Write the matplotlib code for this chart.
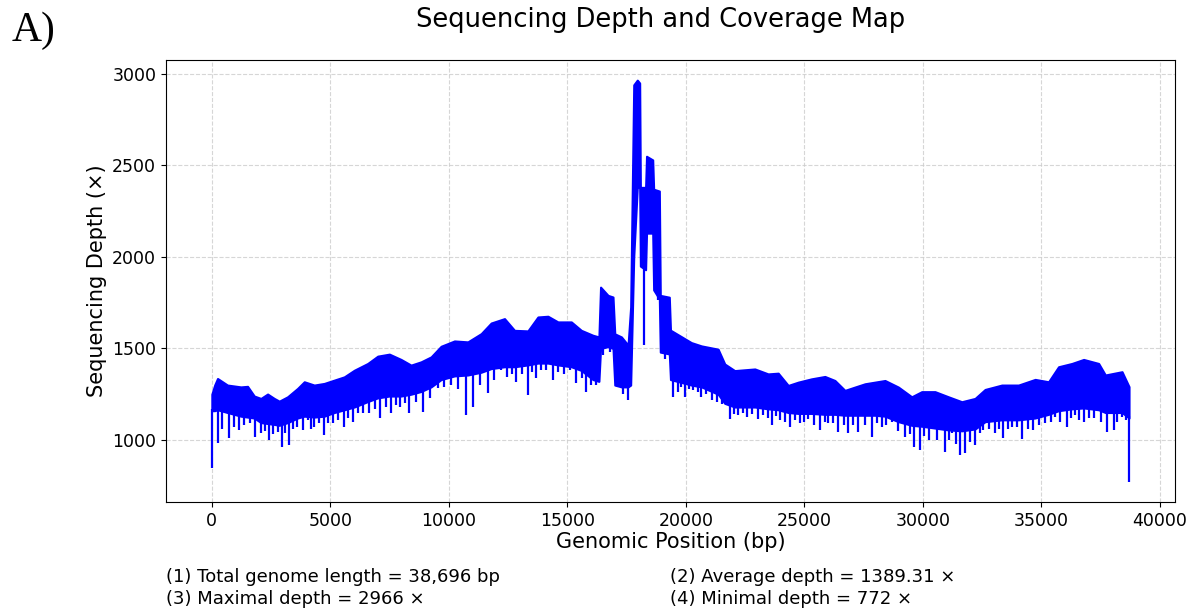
import numpy as np
import matplotlib
matplotlib.use("Agg")
import matplotlib.pyplot as plt

# Depth envelope (position in bp, upper / lower edge of the dense band)
bin_pos = [0, 120, 240, 660, 1225, 1507, 1790, 2070, 2352, 2634, 2845, 3197, 3620, 3900,
           4322, 4745, 5166, 5590, 6010, 6577, 7000, 7490, 7983, 8405, 8828, 9250, 9673,
           10236, 10800, 11363, 11785, 12347, 12770, 13333, 13757, 14180, 14602, 15165,
           15587, 16080, 16330, 16400, 16715, 16925, 17000, 17280, 17560, 17670, 17800,
           17950, 18050, 18080, 18300, 18340, 18600, 18640, 18880, 18920, 19300, 19350,
           20230, 20655, 21360, 21640, 22060, 22910, 23470, 23895, 24318, 24740, 25300,
           25865, 26287, 26710, 27130, 27555, 27978, 28400, 28965, 29527, 29950, 30510,
           31075, 31640, 32200, 32623, 33328, 34033, 34735, 35300, 35722, 36285, 36780,
           37414, 37697, 38400, 38696]
depth_hi = [1250, 1300, 1336, 1300, 1290, 1293, 1240, 1227, 1251, 1227, 1212, 1236, 1282, 1318,
            1300, 1309, 1327, 1345, 1381, 1418, 1458, 1469, 1440, 1409, 1427, 1454, 1512,
            1541, 1536, 1581, 1639, 1663, 1599, 1596, 1672, 1676, 1645, 1645,
            1599, 1572, 1563, 1835, 1790, 1781, 1580, 1563, 1518, 1727, 2940,
            2966, 2950, 2380, 2380, 2550, 2530, 2370, 2360, 1790, 1780, 1600,
            1532, 1514, 1496, 1415, 1379, 1388, 1361, 1365, 1298, 1316, 1334,
            1347, 1325, 1271, 1289, 1307, 1316, 1325, 1289, 1236, 1264, 1264,
            1236, 1209, 1227, 1276, 1300, 1300, 1331, 1318, 1400, 1418, 1440,
            1418, 1355, 1373, 1291]
depth_lo = [1160, 1160, 1165, 1150, 1130, 1125, 1120, 1095, 1090, 1085, 1080, 1095, 1120, 1130,
            1125, 1130, 1150, 1165, 1180, 1210, 1230, 1240, 1240, 1250, 1265, 1290, 1330,
            1350, 1355, 1370, 1390, 1400, 1400, 1410, 1420, 1420, 1410, 1400,
            1380, 1330, 1320, 1500, 1510, 1500, 1300, 1290, 1290, 1300, 2000,
            2380, 2380, 1950, 1930, 2130, 2130, 1820, 1770, 1480, 1470, 1330,
            1300, 1290, 1250, 1200, 1180, 1180, 1170, 1165, 1150, 1145, 1145,
            1140, 1140, 1135, 1135, 1135, 1135, 1130, 1100, 1080, 1075, 1065,
            1055, 1050, 1060, 1100, 1110, 1110, 1120, 1140, 1160, 1170, 1175,
            1165, 1150, 1150, 1120]

# Narrow dips below the band
spike_pos = [0, 240, 430, 732, 950, 1155, 1365, 1600, 1830, 2070, 2250, 2420, 2600, 2775,
             2944, 3100, 3240, 3420, 3590, 3830, 4040, 4170, 4295, 4520, 4745, 4920, 5100,
             5330, 5563, 5750, 5943, 6150, 6365, 6645, 6880, 7110, 7330, 7560, 7780, 7955,
             8150, 8335, 8600, 8900, 9200, 9533, 9800, 10095, 10400, 10729, 11011, 11300,
             11645, 11900, 12207, 12461, 12650, 12841, 13100, 13335, 13500, 13686, 13900,
             14108, 14390, 14600, 14850, 15094, 15375, 15600, 15798, 16000, 16220,
             16503, 16800, 17137, 17350, 17560, 18234, 18826, 19100,
             19460, 19671, 19800, 19953, 20150, 20305, 20500, 20655, 20850,
             21085, 21300, 21508, 21860, 22050, 22212, 22400, 22564, 22800, 23057, 23268,
             23450, 23620, 23800, 23972, 24200, 24395, 24600, 24817, 25000, 25169, 25400,
             25662, 25850, 26014, 26200, 26436, 26650, 26859, 27050, 27281, 27550, 27844,
             28050, 28266, 28450, 28689, 28950, 29252, 29450, 29604, 29857, 30050, 30237,
             30371, 30600, 30934, 31100, 31216, 31400, 31568, 31779, 32000, 32201, 32400,
             32553, 32800, 33046, 33200, 33398, 33600, 33750, 33950, 34200, 34450, 34665,
             34900, 35158, 35400, 35580, 35800, 36073, 36250, 36425, 36600, 36777, 37000,
             37200, 37500, 37763, 38045, 38200, 38397, 38550, 38696]
spike_depth = [847, 985, 1060, 1009, 1070, 1055, 1082, 1090, 1018, 1036, 1050, 1000, 1030, 1045,
               964, 1040, 973, 1060, 1073, 1055, 1109, 1060, 1073, 1090, 1027, 1095, 1091,
               1110, 1073, 1120, 1100, 1150, 1145, 1150, 1170, 1120, 1180, 1150, 1190, 1180,
               1200, 1145, 1210, 1155, 1230, 1282, 1290, 1300, 1280, 1136, 1182, 1300,
               1255, 1330, 1382, 1345, 1360, 1318, 1360, 1245, 1370, 1336, 1380,
               1382, 1327, 1370, 1360, 1382, 1309, 1340, 1264, 1300, 1300,
               1464, 1480, 1291, 1250, 1218, 1518, 1764, 1440,
               1236, 1264, 1290, 1236, 1280, 1273, 1260, 1236, 1250,
               1217, 1210, 1199, 1117, 1140, 1135, 1150, 1126, 1140, 1117, 1135,
               1120, 1081, 1130, 1108, 1100, 1072, 1110, 1090, 1100, 1117, 1080,
               1054, 1100, 1090, 1090, 1045, 1080, 1036, 1080, 1045, 1080, 1018,
               1090, 1072, 1080, 1099, 1050, 1018, 1030, 964, 946, 1020, 1000,
               1073, 1000, 936, 1000, 1036, 980, 918, 927, 990, 973, 1040,
               1055, 1060, 1036, 1060, 1009, 1060, 1073, 1070, 1004, 1060, 1055,
               1080, 1091, 1100, 1127, 1100, 1073, 1120, 1136, 1110, 1100, 1120,
               1118, 1100, 1045, 1055, 1100, 1127, 1110, 772]

stats = ["(1) Total genome length = 38,696 bp", "(2) Average depth = 1389.31 ×",
         "(3) Maximal depth = 2966 ×", "(4) Minimal depth = 772 ×"]

fig = plt.figure(figsize=(11.94, 6.12), dpi=100)
ax = fig.add_axes([0.139, 0.180, 0.845, 0.722])

ax.fill_between(bin_pos, depth_lo, depth_hi, color="blue", edgecolor="blue", linewidth=1.5)
spike_top = np.interp(spike_pos, bin_pos, depth_lo) + 10
ax.vlines(spike_pos, spike_depth, spike_top, color="blue", linewidth=1.6)

ax.set_xlim(-1935, 40631)
ax.set_ylim(662, 3076)
ax.set_xticks(range(0, 40001, 5000))
ax.set_yticks(range(1000, 3001, 500))
ax.tick_params(labelsize=12.5)
ax.grid(True, linestyle="--", color="#cccccc", alpha=0.8)
ax.set_axisbelow(True)
ax.set_xlabel("Genomic Position (bp)", fontsize=15, labelpad=2)
ax.set_ylabel("Sequencing Depth (×)", fontsize=15)

fig.text(0.553, 0.967, "Sequencing Depth and Coverage Map", fontsize=18.5, ha="center", va="center")
fig.text(0.010, 0.950, "A)", fontsize=30, family="Liberation Serif", ha="left", va="center")

fig.text(0.139, 0.057, stats[0], fontsize=13, va="center")
fig.text(0.561, 0.057, stats[1], fontsize=13, va="center")
fig.text(0.139, 0.021, stats[2], fontsize=13, va="center")
fig.text(0.561, 0.021, stats[3], fontsize=13, va="center")

fig.savefig("out.png", dpi=100)
